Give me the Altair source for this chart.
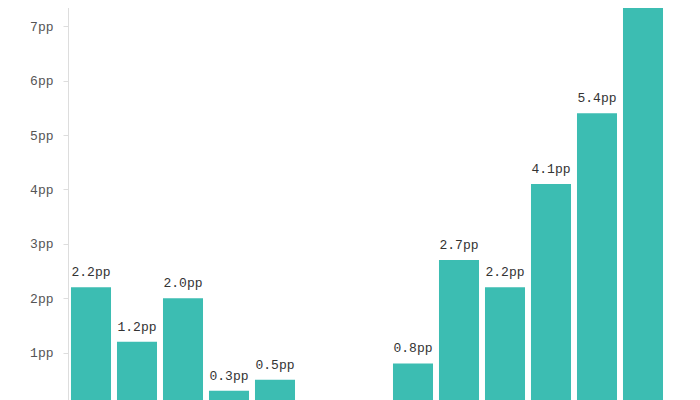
import altair as alt
import pandas as pd

categories = ["A1", "A2", "A3", "A4", "A5", "gap1", "gap2", "B1", "B2", "B3", "B4", "B5", "B6"]
values = [2.2, 1.2, 2.0, 0.3, 0.5, None, None, 0.8, 2.7, 2.2, 4.1, 5.4, 7.4]
tick_values = [1, 2, 3, 4, 5, 6, 7]

df = pd.DataFrame({"cat": categories, "val": values})
df = df.dropna()
df["label"] = df["val"].map(lambda v: f"{v:.1f}pp")

xscale = alt.Scale(domain=categories, paddingInner=0.13, paddingOuter=0.065)
yscale = alt.Scale(domain=[0, 7.5], nice=False)

base = alt.Chart(df).encode(
    x=alt.X("cat:N", scale=xscale, axis=None, sort=categories),
)

bars = base.mark_bar(color="#3cbdb2").encode(
    y=alt.Y(
        "val:Q",
        scale=yscale,
        title=None,
        axis=alt.Axis(
            values=tick_values,
            labelExpr="datum.value + 'pp'",
            grid=False,
            domainColor="#dddddd",
            tickColor="#dddddd",
            tickSize=5,
            labelPadding=10,
            labelFont="Liberation Mono",
            labelFontSize=13,
            labelColor="#555555",
        ),
    )
)

text = base.mark_text(
    baseline="alphabetic", dy=-11, font="Liberation Mono", fontSize=13, color="#333333"
).encode(y=alt.Y("val:Q", scale=yscale), text="label:N")

chart = (
    (bars + text)
    .properties(
        width=598,
        height=408,
        autosize=alt.AutoSizeParams(type="none"),
        padding={"top": -9, "left": 60, "right": 0, "bottom": 0},
    )
    .configure_view(stroke=None)
)

chart.save("out.html", embed_options={"renderer": "svg", "actions": False})
